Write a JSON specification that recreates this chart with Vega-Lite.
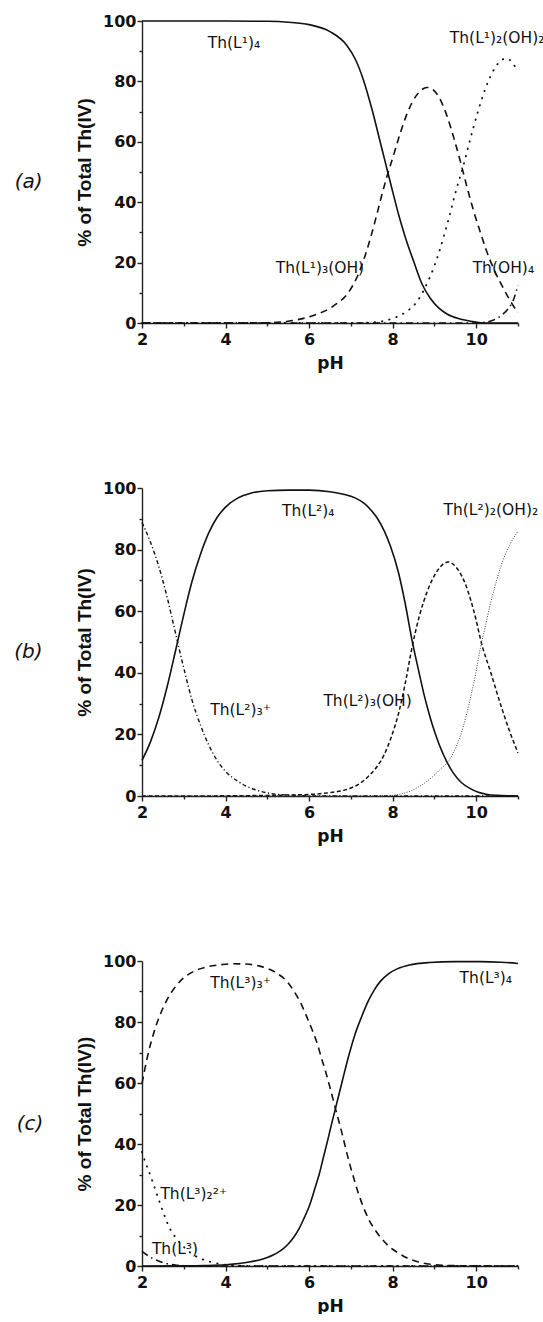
{
  "$schema": "https://vega.github.io/schema/vega-lite/v6.json",
  "background": "white",
  "padding": {"left": 14, "top": 13, "right": 0, "bottom": 0},
  "spacing": 109,
  "datasets": {
    "a": [
      {"s":"L4","pH":2,"pct":100},{"s":"L4","pH":3,"pct":100},{"s":"L4","pH":4,"pct":100},{"s":"L4","pH":5,"pct":99.9},{"s":"L4","pH":5.5,"pct":99.6},{"s":"L4","pH":6,"pct":98.8},{"s":"L4","pH":6.5,"pct":96.5},{"s":"L4","pH":6.9,"pct":92},{"s":"L4","pH":7.1,"pct":87.5},{"s":"L4","pH":7.3,"pct":80.5},{"s":"L4","pH":7.5,"pct":71},{"s":"L4","pH":7.7,"pct":60},{"s":"L4","pH":7.8,"pct":54.5},{"s":"L4","pH":7.9,"pct":49},{"s":"L4","pH":8.0,"pct":43.5},{"s":"L4","pH":8.15,"pct":35.5},{"s":"L4","pH":8.3,"pct":28.5},{"s":"L4","pH":8.5,"pct":20.5},{"s":"L4","pH":8.7,"pct":13},{"s":"L4","pH":8.9,"pct":8.2},{"s":"L4","pH":9.1,"pct":5},{"s":"L4","pH":9.3,"pct":3},{"s":"L4","pH":9.6,"pct":1.4},{"s":"L4","pH":9.9,"pct":0.5},{"s":"L4","pH":10.1,"pct":0.1},{"s":"L4","pH":10.3,"pct":0},{"s":"L4","pH":11,"pct":0},
      {"s":"L3OH","pH":2,"pct":0},{"s":"L3OH","pH":4,"pct":0},{"s":"L3OH","pH":5,"pct":0.1},{"s":"L3OH","pH":5.5,"pct":0.6},{"s":"L3OH","pH":6.1,"pct":2.5},{"s":"L3OH","pH":6.6,"pct":5.8},{"s":"L3OH","pH":6.97,"pct":10.7},{"s":"L3OH","pH":7.18,"pct":16.2},{"s":"L3OH","pH":7.35,"pct":22.7},{"s":"L3OH","pH":7.47,"pct":28.2},{"s":"L3OH","pH":7.6,"pct":34.8},{"s":"L3OH","pH":7.72,"pct":41.3},{"s":"L3OH","pH":7.85,"pct":47.9},{"s":"L3OH","pH":8.02,"pct":55.5},{"s":"L3OH","pH":8.18,"pct":62.8},{"s":"L3OH","pH":8.35,"pct":69.5},{"s":"L3OH","pH":8.56,"pct":75.2},{"s":"L3OH","pH":8.7,"pct":77.3},{"s":"L3OH","pH":8.82,"pct":78},{"s":"L3OH","pH":8.95,"pct":77.4},{"s":"L3OH","pH":9.1,"pct":75},{"s":"L3OH","pH":9.22,"pct":71.5},{"s":"L3OH","pH":9.35,"pct":66.5},{"s":"L3OH","pH":9.48,"pct":60.5},{"s":"L3OH","pH":9.64,"pct":52.5},{"s":"L3OH","pH":9.77,"pct":45.5},{"s":"L3OH","pH":9.94,"pct":37},{"s":"L3OH","pH":10.1,"pct":30},{"s":"L3OH","pH":10.23,"pct":24.5},{"s":"L3OH","pH":10.44,"pct":17.3},{"s":"L3OH","pH":10.65,"pct":11.5},{"s":"L3OH","pH":10.86,"pct":6.3},{"s":"L3OH","pH":11,"pct":3.5},
      {"s":"L2OH2","pH":2,"pct":0},{"s":"L2OH2","pH":7,"pct":0},{"s":"L2OH2","pH":7.6,"pct":0.3},{"s":"L2OH2","pH":8.0,"pct":1.5},{"s":"L2OH2","pH":8.3,"pct":3.5},{"s":"L2OH2","pH":8.55,"pct":6.5},{"s":"L2OH2","pH":8.75,"pct":11},{"s":"L2OH2","pH":8.9,"pct":15.5},{"s":"L2OH2","pH":9.1,"pct":23},{"s":"L2OH2","pH":9.35,"pct":35},{"s":"L2OH2","pH":9.52,"pct":44},{"s":"L2OH2","pH":9.69,"pct":52},{"s":"L2OH2","pH":9.85,"pct":60.5},{"s":"L2OH2","pH":10.02,"pct":69},{"s":"L2OH2","pH":10.23,"pct":78},{"s":"L2OH2","pH":10.44,"pct":84.3},{"s":"L2OH2","pH":10.6,"pct":87},{"s":"L2OH2","pH":10.72,"pct":87.6},{"s":"L2OH2","pH":10.85,"pct":86.5},{"s":"L2OH2","pH":11,"pct":83},
      {"s":"OH4","pH":2,"pct":0},{"s":"OH4","pH":10,"pct":0},{"s":"OH4","pH":10.2,"pct":0.2},{"s":"OH4","pH":10.4,"pct":0.9},{"s":"OH4","pH":10.6,"pct":2.5},{"s":"OH4","pH":10.75,"pct":4.5},{"s":"OH4","pH":10.88,"pct":7.3},{"s":"OH4","pH":11,"pct":12.5}
    ],
    "b": [
      {"s":"L4","pH":2,"pct":11.6},{"s":"L4","pH":2.2,"pct":17.5},{"s":"L4","pH":2.4,"pct":25.4},{"s":"L4","pH":2.6,"pct":35.4},{"s":"L4","pH":2.8,"pct":47},{"s":"L4","pH":3.0,"pct":58.9},{"s":"L4","pH":3.2,"pct":69.8},{"s":"L4","pH":3.4,"pct":78.5},{"s":"L4","pH":3.6,"pct":85.5},{"s":"L4","pH":3.8,"pct":90.5},{"s":"L4","pH":4.0,"pct":93.8},{"s":"L4","pH":4.3,"pct":96.8},{"s":"L4","pH":4.6,"pct":98.3},{"s":"L4","pH":5.0,"pct":99.1},{"s":"L4","pH":5.5,"pct":99.3},{"s":"L4","pH":6.0,"pct":99.3},{"s":"L4","pH":6.5,"pct":98.8},{"s":"L4","pH":6.82,"pct":98},{"s":"L4","pH":7.1,"pct":96.8},{"s":"L4","pH":7.32,"pct":95},{"s":"L4","pH":7.5,"pct":92.5},{"s":"L4","pH":7.64,"pct":90},{"s":"L4","pH":7.8,"pct":86},{"s":"L4","pH":7.95,"pct":81},{"s":"L4","pH":8.14,"pct":72.5},{"s":"L4","pH":8.3,"pct":62.5},{"s":"L4","pH":8.46,"pct":50.8},{"s":"L4","pH":8.6,"pct":42},{"s":"L4","pH":8.75,"pct":33},{"s":"L4","pH":8.87,"pct":26.8},{"s":"L4","pH":9.0,"pct":21},{"s":"L4","pH":9.12,"pct":16.5},{"s":"L4","pH":9.3,"pct":11},{"s":"L4","pH":9.45,"pct":7.5},{"s":"L4","pH":9.65,"pct":4.3},{"s":"L4","pH":9.86,"pct":2.4},{"s":"L4","pH":10.05,"pct":1.2},{"s":"L4","pH":10.27,"pct":0.5},{"s":"L4","pH":10.5,"pct":0.2},{"s":"L4","pH":10.8,"pct":0.05},{"s":"L4","pH":11,"pct":0},
      {"s":"L3p","pH":2,"pct":88.8},{"s":"L3p","pH":2.2,"pct":82.5},{"s":"L3p","pH":2.4,"pct":74.6},{"s":"L3p","pH":2.6,"pct":64.6},{"s":"L3p","pH":2.8,"pct":53},{"s":"L3p","pH":3.0,"pct":41.5},{"s":"L3p","pH":3.2,"pct":31},{"s":"L3p","pH":3.4,"pct":23},{"s":"L3p","pH":3.6,"pct":16.5},{"s":"L3p","pH":3.8,"pct":11.5},{"s":"L3p","pH":4.0,"pct":8},{"s":"L3p","pH":4.3,"pct":4.7},{"s":"L3p","pH":4.6,"pct":2.6},{"s":"L3p","pH":5.0,"pct":1.0},{"s":"L3p","pH":5.5,"pct":0.3},{"s":"L3p","pH":6,"pct":0.05},{"s":"L3p","pH":7,"pct":0},{"s":"L3p","pH":11,"pct":0},
      {"s":"L3OH","pH":2,"pct":0},{"s":"L3OH","pH":4,"pct":0.05},{"s":"L3OH","pH":5,"pct":0.2},{"s":"L3OH","pH":6,"pct":0.5},{"s":"L3OH","pH":6.5,"pct":1.1},{"s":"L3OH","pH":6.82,"pct":1.8},{"s":"L3OH","pH":7.0,"pct":2.6},{"s":"L3OH","pH":7.23,"pct":4.2},{"s":"L3OH","pH":7.45,"pct":6.8},{"s":"L3OH","pH":7.64,"pct":9.8},{"s":"L3OH","pH":7.8,"pct":13.5},{"s":"L3OH","pH":7.95,"pct":18.5},{"s":"L3OH","pH":8.14,"pct":26.8},{"s":"L3OH","pH":8.3,"pct":36.5},{"s":"L3OH","pH":8.46,"pct":48},{"s":"L3OH","pH":8.64,"pct":58.5},{"s":"L3OH","pH":8.83,"pct":66.5},{"s":"L3OH","pH":9.04,"pct":72.5},{"s":"L3OH","pH":9.2,"pct":75.2},{"s":"L3OH","pH":9.33,"pct":76},{"s":"L3OH","pH":9.47,"pct":75},{"s":"L3OH","pH":9.61,"pct":72.5},{"s":"L3OH","pH":9.75,"pct":68.5},{"s":"L3OH","pH":9.86,"pct":64},{"s":"L3OH","pH":10.0,"pct":57},{"s":"L3OH","pH":10.1,"pct":51},{"s":"L3OH","pH":10.35,"pct":40},{"s":"L3OH","pH":10.6,"pct":29},{"s":"L3OH","pH":10.8,"pct":21},{"s":"L3OH","pH":11,"pct":14},
      {"s":"L2OH2","pH":2,"pct":0},{"s":"L2OH2","pH":7.5,"pct":0},{"s":"L2OH2","pH":7.97,"pct":0.2},{"s":"L2OH2","pH":8.2,"pct":0.7},{"s":"L2OH2","pH":8.46,"pct":1.8},{"s":"L2OH2","pH":8.7,"pct":3.6},{"s":"L2OH2","pH":8.95,"pct":6.2},{"s":"L2OH2","pH":9.15,"pct":8.8},{"s":"L2OH2","pH":9.37,"pct":12},{"s":"L2OH2","pH":9.55,"pct":17},{"s":"L2OH2","pH":9.7,"pct":23},{"s":"L2OH2","pH":9.82,"pct":29.5},{"s":"L2OH2","pH":9.94,"pct":36.6},{"s":"L2OH2","pH":10.1,"pct":48},{"s":"L2OH2","pH":10.2,"pct":54},{"s":"L2OH2","pH":10.35,"pct":63},{"s":"L2OH2","pH":10.5,"pct":70.5},{"s":"L2OH2","pH":10.6,"pct":75},{"s":"L2OH2","pH":10.8,"pct":81.5},{"s":"L2OH2","pH":11,"pct":86}
    ],
    "c": [
      {"s":"L4","pH":2,"pct":0},{"s":"L4","pH":3,"pct":0.05},{"s":"L4","pH":3.5,"pct":0.15},{"s":"L4","pH":4,"pct":0.4},{"s":"L4","pH":4.32,"pct":0.8},{"s":"L4","pH":4.6,"pct":1.4},{"s":"L4","pH":4.81,"pct":2.0},{"s":"L4","pH":5.0,"pct":2.8},{"s":"L4","pH":5.14,"pct":3.6},{"s":"L4","pH":5.3,"pct":4.9},{"s":"L4","pH":5.39,"pct":5.8},{"s":"L4","pH":5.5,"pct":7.2},{"s":"L4","pH":5.64,"pct":9.6},{"s":"L4","pH":5.77,"pct":12.5},{"s":"L4","pH":5.89,"pct":16},{"s":"L4","pH":6.0,"pct":19.5},{"s":"L4","pH":6.14,"pct":25.5},{"s":"L4","pH":6.25,"pct":30.5},{"s":"L4","pH":6.34,"pct":35.5},{"s":"L4","pH":6.45,"pct":41.5},{"s":"L4","pH":6.51,"pct":45},{"s":"L4","pH":6.63,"pct":51.6},{"s":"L4","pH":6.8,"pct":61},{"s":"L4","pH":6.96,"pct":69.5},{"s":"L4","pH":7.1,"pct":76},{"s":"L4","pH":7.25,"pct":81.5},{"s":"L4","pH":7.42,"pct":87},{"s":"L4","pH":7.55,"pct":90.3},{"s":"L4","pH":7.71,"pct":93.4},{"s":"L4","pH":7.9,"pct":95.8},{"s":"L4","pH":8.12,"pct":97.5},{"s":"L4","pH":8.4,"pct":98.7},{"s":"L4","pH":8.87,"pct":99.5},{"s":"L4","pH":9.5,"pct":99.8},{"s":"L4","pH":10.1,"pct":99.8},{"s":"L4","pH":10.6,"pct":99.6},{"s":"L4","pH":11,"pct":99.2},
      {"s":"L3p","pH":2,"pct":59.8},{"s":"L3p","pH":2.12,"pct":68},{"s":"L3p","pH":2.29,"pct":76.8},{"s":"L3p","pH":2.5,"pct":84.5},{"s":"L3p","pH":2.67,"pct":89},{"s":"L3p","pH":2.83,"pct":92.1},{"s":"L3p","pH":3.0,"pct":94.5},{"s":"L3p","pH":3.24,"pct":96.6},{"s":"L3p","pH":3.5,"pct":97.9},{"s":"L3p","pH":3.9,"pct":98.8},{"s":"L3p","pH":4.2,"pct":99.1},{"s":"L3p","pH":4.48,"pct":99},{"s":"L3p","pH":4.8,"pct":98.4},{"s":"L3p","pH":5.06,"pct":97.2},{"s":"L3p","pH":5.25,"pct":95.8},{"s":"L3p","pH":5.47,"pct":93.3},{"s":"L3p","pH":5.65,"pct":89.8},{"s":"L3p","pH":5.8,"pct":86.2},{"s":"L3p","pH":5.95,"pct":81.5},{"s":"L3p","pH":6.05,"pct":78.2},{"s":"L3p","pH":6.18,"pct":73.5},{"s":"L3p","pH":6.3,"pct":68},{"s":"L3p","pH":6.4,"pct":63.5},{"s":"L3p","pH":6.51,"pct":58},{"s":"L3p","pH":6.63,"pct":51.6},{"s":"L3p","pH":6.75,"pct":45.5},{"s":"L3p","pH":6.85,"pct":40},{"s":"L3p","pH":6.96,"pct":34},{"s":"L3p","pH":7.07,"pct":28.8},{"s":"L3p","pH":7.17,"pct":24.2},{"s":"L3p","pH":7.3,"pct":19.3},{"s":"L3p","pH":7.42,"pct":15.5},{"s":"L3p","pH":7.56,"pct":12.2},{"s":"L3p","pH":7.71,"pct":9.4},{"s":"L3p","pH":7.9,"pct":6.6},{"s":"L3p","pH":8.12,"pct":4.4},{"s":"L3p","pH":8.35,"pct":2.6},{"s":"L3p","pH":8.62,"pct":1.3},{"s":"L3p","pH":8.9,"pct":0.6},{"s":"L3p","pH":9.28,"pct":0.2},{"s":"L3p","pH":9.8,"pct":0.05},{"s":"L3p","pH":11,"pct":0},
      {"s":"L2pp","pH":2,"pct":37.4},{"s":"L2pp","pH":2.08,"pct":34},{"s":"L2pp","pH":2.17,"pct":30.9},{"s":"L2pp","pH":2.25,"pct":27.8},{"s":"L2pp","pH":2.33,"pct":24.6},{"s":"L2pp","pH":2.42,"pct":21},{"s":"L2pp","pH":2.5,"pct":17.9},{"s":"L2pp","pH":2.58,"pct":15},{"s":"L2pp","pH":2.66,"pct":12.5},{"s":"L2pp","pH":2.78,"pct":9.8},{"s":"L2pp","pH":2.91,"pct":7.6},{"s":"L2pp","pH":3.05,"pct":5.6},{"s":"L2pp","pH":3.24,"pct":3.6},{"s":"L2pp","pH":3.45,"pct":2.2},{"s":"L2pp","pH":3.65,"pct":1.3},{"s":"L2pp","pH":3.9,"pct":0.6},{"s":"L2pp","pH":4.15,"pct":0.25},{"s":"L2pp","pH":4.5,"pct":0.05},{"s":"L2pp","pH":5,"pct":0},{"s":"L2pp","pH":11,"pct":0},
      {"s":"L1","pH":2,"pct":4.8},{"s":"L1","pH":2.12,"pct":3.6},{"s":"L1","pH":2.25,"pct":2.5},{"s":"L1","pH":2.38,"pct":1.7},{"s":"L1","pH":2.5,"pct":1.1},{"s":"L1","pH":2.65,"pct":0.6},{"s":"L1","pH":2.83,"pct":0.25},{"s":"L1","pH":3.0,"pct":0.1},{"s":"L1","pH":3.3,"pct":0},{"s":"L1","pH":11,"pct":0}
    ],
    "la": [
      {"pH":4.2,"pct":92.7,"t":"Th(L¹)₄"},
      {"pH":10.5,"pct":94.4,"t":"Th(L¹)₂(OH)₂"},
      {"pH":6.26,"pct":18.2,"t":"Th(L¹)₃(OH)"},
      {"pH":10.65,"pct":18.2,"t":"Th(OH)₄"}
    ],
    "lb": [
      {"pH":5.98,"pct":92.6,"t":"Th(L²)₄"},
      {"pH":10.35,"pct":93,"t":"Th(L²)₂(OH)₂"},
      {"pH":4.36,"pct":28,"t":"Th(L²)₃⁺"},
      {"pH":7.4,"pct":31,"t":"Th(L²)₃(OH)"}
    ],
    "lc": [
      {"pH":4.36,"pct":92.8,"t":"Th(L³)₃⁺"},
      {"pH":10.23,"pct":94.4,"t":"Th(L³)₄"},
      {"pH":3.24,"pct":23.7,"t":"Th(L³)₂²⁺"},
      {"pH":2.79,"pct":5.7,"t":"Th(L³)"}
    ]
  },
  "vconcat": [
    {
      "width": 376, "height": 302,
      "title": {"text": "(a)"},
      "encoding": {
        "x": {"field": "pH", "type": "quantitative", "scale": {"domain": [2, 11], "nice": false, "zero": false},
              "axis": {"title": "pH", "values": [2,3,4,5,6,7,8,9,10,11], "labelExpr": "datum.value % 2 === 0 ? datum.label : ''", "tickSize": {"condition": {"test": "datum.value % 2 === 0", "value": 5}, "value": 3}}},
        "y": {"field": "pct", "type": "quantitative", "scale": {"domain": [0, 100], "nice": false},
              "axis": {"title": "% of Total Th(IV)", "values": [0,10,20,30,40,50,60,70,80,90,100], "labelExpr": "datum.value % 20 === 0 ? datum.label : ''", "tickSize": {"condition": {"test": "datum.value % 20 === 0", "value": 5}, "value": 3}}}
      },
      "layer": [
        {"data": {"name": "a"}, "transform": [{"filter": "datum.s === 'L4'"}], "mark": {"type": "line", "color": "#111", "strokeWidth": 1.6, "interpolate": "monotone"}},
        {"data": {"name": "a"}, "transform": [{"filter": "datum.s === 'L3OH'"}], "mark": {"type": "line", "color": "#111", "strokeWidth": 1.6, "strokeDash": [7, 5], "interpolate": "monotone"}},
        {"data": {"name": "a"}, "transform": [{"filter": "datum.s === 'L2OH2'"}], "mark": {"type": "line", "color": "#111", "strokeWidth": 1.8, "strokeDash": [0.5, 7], "strokeCap": "round", "interpolate": "monotone"}},
        {"data": {"name": "a"}, "transform": [{"filter": "datum.s === 'OH4'"}], "mark": {"type": "line", "color": "#111", "strokeWidth": 1.6, "strokeDash": [7, 4, 1.5, 4], "interpolate": "monotone"}},
        {"data": {"name": "la"}, "mark": {"type": "text", "font": "DejaVu Sans", "fontSize": 15.5, "color": "#111", "align": "center", "baseline": "middle"}, "encoding": {"text": {"field": "t"}}}
      ]
    },
    {
      "width": 376, "height": 308,
      "title": {"text": "(b)"},
      "encoding": {
        "x": {"field": "pH", "type": "quantitative", "scale": {"domain": [2, 11], "nice": false, "zero": false},
              "axis": {"title": "pH", "values": [2,3,4,5,6,7,8,9,10,11], "labelExpr": "datum.value % 2 === 0 ? datum.label : ''", "tickSize": {"condition": {"test": "datum.value % 2 === 0", "value": 5}, "value": 3}}},
        "y": {"field": "pct", "type": "quantitative", "scale": {"domain": [0, 100], "nice": false},
              "axis": {"title": "% of Total Th(IV)", "values": [0,10,20,30,40,50,60,70,80,90,100], "labelExpr": "datum.value % 20 === 0 ? datum.label : ''", "tickSize": {"condition": {"test": "datum.value % 20 === 0", "value": 5}, "value": 3}}}
      },
      "layer": [
        {"data": {"name": "b"}, "transform": [{"filter": "datum.s === 'L4'"}], "mark": {"type": "line", "color": "#111", "strokeWidth": 1.6, "interpolate": "monotone"}},
        {"data": {"name": "b"}, "transform": [{"filter": "datum.s === 'L3p'"}], "mark": {"type": "line", "color": "#111", "strokeWidth": 1.4, "strokeDash": [4, 2.5, 1.2, 2.5], "interpolate": "monotone"}},
        {"data": {"name": "b"}, "transform": [{"filter": "datum.s === 'L3OH'"}], "mark": {"type": "line", "color": "#111", "strokeWidth": 1.5, "strokeDash": [4, 2.5], "interpolate": "monotone"}},
        {"data": {"name": "b"}, "transform": [{"filter": "datum.s === 'L2OH2'"}], "mark": {"type": "line", "color": "#444", "strokeWidth": 1.0, "strokeDash": [1, 1.5], "interpolate": "monotone"}},
        {"data": {"name": "lb"}, "mark": {"type": "text", "font": "DejaVu Sans", "fontSize": 15.5, "color": "#111", "align": "center", "baseline": "middle"}, "encoding": {"text": {"field": "t"}}}
      ]
    },
    {
      "width": 376, "height": 305,
      "title": {"text": "(c)"},
      "encoding": {
        "x": {"field": "pH", "type": "quantitative", "scale": {"domain": [2, 11], "nice": false, "zero": false},
              "axis": {"title": "pH", "values": [2,3,4,5,6,7,8,9,10,11], "labelExpr": "datum.value % 2 === 0 ? datum.label : ''", "tickSize": {"condition": {"test": "datum.value % 2 === 0", "value": 5}, "value": 3}}},
        "y": {"field": "pct", "type": "quantitative", "scale": {"domain": [0, 100], "nice": false},
              "axis": {"title": "% of Total Th(IV))", "values": [0,10,20,30,40,50,60,70,80,90,100], "labelExpr": "datum.value % 20 === 0 ? datum.label : ''", "tickSize": {"condition": {"test": "datum.value % 20 === 0", "value": 5}, "value": 3}}}
      },
      "layer": [
        {"data": {"name": "c"}, "transform": [{"filter": "datum.s === 'L4'"}], "mark": {"type": "line", "color": "#111", "strokeWidth": 1.6, "interpolate": "monotone"}},
        {"data": {"name": "c"}, "transform": [{"filter": "datum.s === 'L3p'"}], "mark": {"type": "line", "color": "#111", "strokeWidth": 1.6, "strokeDash": [7, 5], "interpolate": "monotone"}},
        {"data": {"name": "c"}, "transform": [{"filter": "datum.s === 'L2pp'"}], "mark": {"type": "line", "color": "#111", "strokeWidth": 1.8, "strokeDash": [0.5, 7], "strokeCap": "round", "interpolate": "monotone"}},
        {"data": {"name": "c"}, "transform": [{"filter": "datum.s === 'L1'"}], "mark": {"type": "line", "color": "#111", "strokeWidth": 1.6, "strokeDash": [7, 4, 1.5, 4], "interpolate": "monotone"}},
        {"data": {"name": "lc"}, "mark": {"type": "text", "font": "DejaVu Sans", "fontSize": 15.5, "color": "#111", "align": "center", "baseline": "middle"}, "encoding": {"text": {"field": "t"}}}
      ]
    }
  ],
  "config": {
    "view": {"stroke": null},
    "axis": {"grid": false, "domainColor": "#222", "domainWidth": 1.4, "tickColor": "#222", "tickWidth": 1.4,
             "labelFont": "DejaVu Sans", "labelFontWeight": "bold", "labelFontSize": 16, "labelColor": "#111",
             "labelFlush": false, "labelOverlap": false, "titleColor": "#111", "titleFontWeight": "bold"},
    "axisX": {"labelPadding": 3, "titleFont": "DejaVu Sans", "titleFontSize": 17, "titlePadding": 8},
    "axisY": {"labelPadding": 1, "titleFont": "Liberation Sans", "titleFontSize": 19, "titlePadding": 8},
    "title": {"orient": "left", "angle": 0, "anchor": "middle", "align": "right", "baseline": "middle", "font": "DejaVu Sans", "fontSize": 20, "fontStyle": "italic", "fontWeight": "normal", "color": "#111", "offset": 19}
  }
}
